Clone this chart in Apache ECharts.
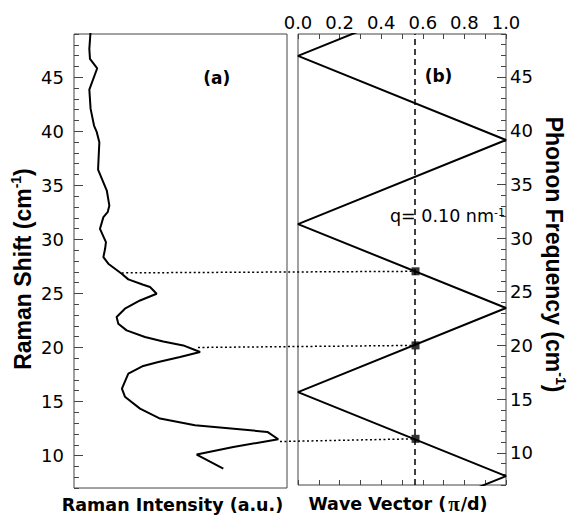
<!DOCTYPE html>
<html><head><meta charset="utf-8">
<script src="https://cdn.jsdelivr.net/npm/echarts@6/dist/echarts.min.js"></script>
<style>html,body{margin:0;padding:0;background:#fff}#c{width:569px;height:519px}</style>
</head><body><div id="c"></div>
<script>
// ---- data ----
const ramanShift = [49.3, 47.62, 46.69, 45.83, 43.86, 42.07, 40.53, 39.92, 38.99, 37.75, 36.46, 35.60, 34.52, 33.13, 32.52, 32.06, 30.98, 29.75, 29.13, 28.36, 27.75, 26.82, 26.30, 25.80, 25.59, 24.97, 24.35, 23.59, 22.82, 22.20, 21.58, 20.97, 20.56, 20.19, 19.58, 19.12, 18.66, 18.29, 17.58, 16.19, 15.45, 14.34, 13.42, 12.80, 12.19, 11.51, 10.80, 10.09, 8.80];
const ramanIntensity = [7.8, 7.2, 7.5, 10.9, 7.2, 7.8, 9.4, 10.7, 11.9, 11.6, 11.3, 13.1, 15.4, 16.6, 15.8, 13.8, 12.2, 15.0, 14.6, 13.8, 16.1, 22.4, 25.5, 32.5, 35.7, 38.8, 31.0, 23.9, 20.0, 20.8, 24.7, 33.3, 41.9, 51.3, 59.2, 49.8, 39.6, 32.5, 25.5, 22.5, 23.9, 31.0, 40.4, 56.8, 90.8, 95.9, 74.8, 57.6, 70.1];
const foldedQ = [1, 0, 1, 0, 1, 0, 1, 0];
const foldedFreq = [54.79, 46.96, 39.13, 31.30, 23.48, 15.65, 7.83, 0];
const qMeasured = 0.565;
const modeFreq = [26.9, 20.0, 11.3];
const modeIntensity = [22.4, 58.2, 96.7];
const shiftTicks = [10, 15, 20, 25, 30, 35, 40, 45];
const shiftRange = [7, 49];
const intensityRange = [0, 100];
const qRange = [0, 1];

// ---- chart ----
const FONT = 'DejaVu Sans';
const TFONT = 'Liberation Sans';
const AX = '#444';
const chart = echarts.init(document.getElementById('c'), null, {renderer: 'svg'});

const supStyle = (size, font) => ({fontSize: size, fontWeight: 'bold', fontFamily: font, verticalAlign: 'top', color: '#000'});

const hidden = {axisLine: {show: false, onZero: false}, splitLine: {show: false}};

const option = {
  animation: false,
  backgroundColor: '#fff',
  grid: [
    {left: 74, top: 34, width: 213, height: 455, show: true, borderColor: AX, borderWidth: 1, backgroundColor: 'transparent'},
    {left: 298, top: 34, width: 212, height: 455, show: true, borderColor: AX, borderWidth: 1, backgroundColor: 'transparent'}
  ],
  xAxis: [
    Object.assign({gridIndex: 0, type: 'value', min: intensityRange[0], max: intensityRange[1], position: 'bottom',
      axisTick: {show: false}, axisLabel: {show: false},
      name: 'Raman Intensity (a.u.)', nameLocation: 'middle', nameGap: 8,
      nameTextStyle: {fontFamily: FONT, fontWeight: 'bold', fontSize: 17.5, color: '#000', padding: [0, 16, 0, 0]}}, hidden),
    Object.assign({gridIndex: 1, type: 'value', min: qRange[0], max: qRange[1], interval: 0.2, position: 'top',
      axisTick: {inside: true, length: 5, lineStyle: {color: AX}},
      minorTick: {show: true, splitNumber: 2, length: 5, lineStyle: {color: AX}},
      axisLabel: {margin: 3, formatter: v => v.toFixed(1), fontFamily: FONT, fontSize: 18, color: '#000'}}, hidden),
    Object.assign({gridIndex: 1, type: 'value', min: qRange[0], max: qRange[1], interval: 0.1, position: 'bottom',
      axisTick: {inside: true, length: 5, lineStyle: {color: AX}}, axisLabel: {show: false},
      name: 'Wave Vector ({pi|π}/d)', nameLocation: 'middle', nameGap: 8,
      nameTextStyle: {fontFamily: FONT, fontWeight: 'bold', fontSize: 17.5, color: '#000', padding: [0, 8, 0, 0],
        rich: {pi: {fontFamily: 'Liberation Serif', fontSize: 21, color: '#000', padding: [0, 1, 0, 2]}}}}, hidden)
  ],
  yAxis: [
    Object.assign({gridIndex: 0, type: 'value', min: shiftRange[0], max: shiftRange[1], position: 'left',
      axisTick: {inside: true, length: 9, customValues: shiftTicks, lineStyle: {color: AX}},
      axisLabel: {customValues: shiftTicks, margin: 10, fontFamily: FONT, fontSize: 18, color: '#000'},
      name: 'Raman Shift (cm{sup|-1})', nameLocation: 'middle', nameGap: 34, nameRotate: 90,
      nameTextStyle: {fontFamily: TFONT, fontWeight: 'bold', fontSize: 23, color: '#000', lineHeight: 28, padding: [0, 16, 0, 0],
        rich: {sup: supStyle(14, TFONT)}}}, hidden),
    Object.assign({gridIndex: 0, type: 'value', min: shiftRange[0], max: shiftRange[1], interval: 1, position: 'left',
      axisTick: {inside: true, length: 5, lineStyle: {color: AX}}, axisLabel: {show: false}}, hidden),
    Object.assign({gridIndex: 1, type: 'value', min: shiftRange[0], max: shiftRange[1], position: 'right',
      axisTick: {inside: true, length: 9, customValues: shiftTicks, lineStyle: {color: AX}},
      axisLabel: {customValues: shiftTicks, margin: 4, fontFamily: FONT, fontSize: 18, color: '#000'},
      name: 'Phonon Frequency (cm{sup|-1})', nameLocation: 'middle', nameGap: 34, nameRotate: -90,
      nameTextStyle: {fontFamily: TFONT, fontWeight: 'bold', fontSize: 23, color: '#000', lineHeight: 28, padding: [0, 10, 0, 0],
        rich: {sup: supStyle(14, TFONT)}}}, hidden),
    Object.assign({gridIndex: 1, type: 'value', min: shiftRange[0], max: shiftRange[1], interval: 1, position: 'right',
      axisTick: {inside: true, length: 5, lineStyle: {color: AX}}, axisLabel: {show: false}}, hidden)
  ],
  series: [
    {type: 'line', xAxisIndex: 0, yAxisIndex: 0, symbol: 'none', silent: true,
      lineStyle: {color: '#000', width: 2}, data: ramanIntensity.map((v, i) => [v, ramanShift[i]])},
    {type: 'line', xAxisIndex: 1, yAxisIndex: 2, symbol: 'none', silent: true,
      lineStyle: {color: '#000', width: 2}, data: foldedQ.map((q, i) => [q, foldedFreq[i]]),
      markLine: {symbol: 'none', silent: true, label: {show: false},
        lineStyle: {type: [6, 4], color: '#000', width: 1.5}, data: [{xAxis: qMeasured}]}},
    {type: 'scatter', xAxisIndex: 1, yAxisIndex: 2, symbol: 'rect', symbolSize: 8, z: 5, silent: true,
      itemStyle: {color: '#000'}, data: modeFreq.map(f => [qMeasured, f])}
  ]
};
chart.setOption(option);

const graphics = modeFreq.map((f, i) => {
  const p0 = chart.convertToPixel({xAxisIndex: 0, yAxisIndex: 0}, [modeIntensity[i], f]);
  const p1 = chart.convertToPixel({xAxisIndex: 1, yAxisIndex: 2}, [qMeasured, f]);
  return {type: 'line', z: 1, silent: true,
    shape: {x1: p0[0], y1: p0[1], x2: p1[0], y2: p1[1]},
    style: {stroke: '#000', lineWidth: 1.5, lineDash: [2, 2.5]}};
});
graphics.push(
  {type: 'text', x: 216.7, y: 78, silent: true,
    style: {text: '(a)', font: 'bold 17px "DejaVu Sans"', fill: '#000', align: 'center', verticalAlign: 'middle'}},
  {type: 'text', x: 438.5, y: 76, silent: true,
    style: {text: '(b)', font: 'bold 17px "DejaVu Sans"', fill: '#000', align: 'center', verticalAlign: 'middle'}},
  {type: 'text', x: 390, y: 216, silent: true,
    style: {text: 'q= 0.10 nm{s|-1}', font: '17.5px "DejaVu Sans"', fill: '#000', align: 'left', verticalAlign: 'middle',
      rich: {s: {fontSize: 11, fontFamily: FONT, verticalAlign: 'top', fill: '#000'}}}}
);
chart.setOption({graphic: graphics});
</script>
</body></html>
